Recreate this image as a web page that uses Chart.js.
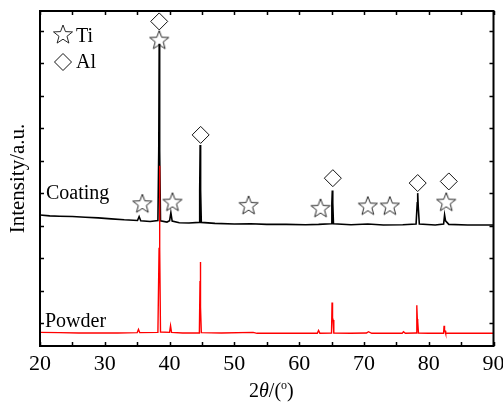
<!DOCTYPE html>
<html lang="en">
<head>
<meta charset="UTF-8">
<title>XRD pattern</title>
<script src="https://cdn.jsdelivr.net/npm/chart.js@4.4.1/dist/chart.umd.min.js"></script>
<style>
  html, body { margin: 0; padding: 0; background: #fff; }
  #wrap { width: 503px; height: 405px; }
</style>
</head>
<body>
<div id="wrap"><canvas id="xrd"></canvas></div>
<script>
  // 2theta (deg) and intensity (a.u.)
  const coatingX = [20.0, 21.5, 23.0, 25.0, 27.0, 29.0, 31.0, 33.0, 35.05, 35.3, 35.55, 37.0,
    38.2, 38.33, 38.4, 38.47, 38.6, 39.6, 40.0, 40.2, 40.4, 41.5, 43.0, 44.55, 44.65, 44.72, 44.79, 44.9,
    47.0, 50.0, 52.5, 55.0, 58.0, 61.0, 63.0, 64.95, 65.05, 65.12, 65.19, 65.3, 68.0, 70.6, 73.0, 76.0,
    78.05, 78.23, 78.3, 78.38, 78.55, 81.0, 82.3, 82.45, 82.6, 83.1, 86.0, 90.0];
  const coatingY = [40.3, 40.0, 39.9, 39.8, 39.6, 39.4, 39.1, 38.8, 38.6, 39.8, 38.5, 38.3,
    38.6, 60.0, 92.9, 60.0, 38.5, 38.1, 38.5, 41.0, 38.4, 37.9, 37.8, 38.0, 48.0, 61.8, 48.0, 38.0,
    37.7, 37.5, 37.6, 37.4, 37.4, 37.3, 37.4, 37.6, 44.0, 47.8, 44.0, 37.6, 37.3, 37.5, 37.2, 37.3,
    37.5, 44.0, 47.0, 43.0, 37.5, 37.2, 37.5, 40.3, 38.5, 37.4, 37.2, 37.2];

  const powderX = [20.0, 23.0, 26.0, 29.0, 32.0, 35.0, 35.2, 35.4, 38.2, 38.38, 38.45, 38.5, 38.6,
    40.0, 40.15, 40.3, 42.0, 44.6, 44.7, 44.75, 44.8, 44.9, 48.0, 52.9, 53.5, 58.0, 62.8, 63.0, 63.2,
    65.0, 65.08, 65.13, 65.18, 65.24, 65.35, 68.0, 70.4, 70.7, 71.2, 74.0, 75.9, 76.1, 76.4,
    78.05, 78.14, 78.19, 78.24, 78.3, 78.42, 80.0, 82.3, 82.37, 82.42, 82.46, 82.52, 82.62, 86.0, 90.0];
  const powderY = [4.2, 4.1, 4.0, 4.0, 4.0, 4.1, 5.1, 4.1, 4.2, 30.0, 55.4, 30.0, 4.3,
    4.2, 6.2, 4.2, 4.0, 4.0, 20.0, 25.8, 12.0, 4.1, 4.0, 4.2, 3.9, 3.9, 3.9, 4.8, 3.9,
    4.0, 13.4, 13.0, 8.6, 8.0, 4.0, 3.9, 4.0, 4.4, 3.9, 3.9, 3.9, 4.4, 3.9,
    4.0, 12.5, 12.0, 8.3, 7.5, 4.0, 3.9, 3.9, 6.2, 6.0, 4.9, 4.7, 3.9, 3.9, 3.9];

  // phase markers
  const tiX = [38.4, 35.8, 40.45, 52.2, 63.3, 70.6, 74.0, 82.7];
  const tiY = [94.2, 43.9, 44.4, 43.4, 42.5, 43.2, 43.2, 44.4];
  const alX = [38.4, 44.8, 65.2, 78.3, 83.1];
  const alY = [99.8, 64.9, 51.6, 50.1, 50.6];

  const xTicks = [20, 30, 40, 50, 60, 70, 80, 90];
  const yTicks = [7, 17, 27, 37, 47, 57, 67, 77, 87, 97];

  const serif = "'Liberation Serif', 'Times New Roman', serif";
  const markColor = '#111';

  function pts(xs, ys) {
    return xs.map((x, i) => ({ x: x, y: ys[i] }));
  }

  function starPath(g, cx, cy, r) {
    g.beginPath();
    for (let i = 0; i < 10; i++) {
      const rr = i % 2 ? r * 0.42 : r;
      const a = -Math.PI / 2 + i * Math.PI / 5;
      const px = cx + rr * Math.cos(a), py = cy + rr * Math.sin(a);
      if (i === 0) g.moveTo(px, py); else g.lineTo(px, py);
    }
    g.closePath();
  }

  const star = document.createElement('canvas');
  star.width = 24; star.height = 24;
  (function () {
    const g = star.getContext('2d');
    starPath(g, 12, 13, 10);
    g.strokeStyle = markColor;
    g.lineWidth = 0.9;
    g.stroke();
  })();

  // frame, inward ticks, legend, labels
  const decor = {
    id: 'decor',
    afterDraw(chart) {
      const { ctx, chartArea: a, scales } = chart;
      ctx.save();
      ctx.strokeStyle = '#000';
      ctx.lineWidth = 1.5;
      ctx.beginPath();
      for (let v = 20; v <= 90; v += 5) {
        const px = Math.round(scales.x.getPixelForValue(v)) + 0.5;
        ctx.moveTo(px, a.bottom); ctx.lineTo(px, a.bottom - 4);
        ctx.moveTo(px, a.top); ctx.lineTo(px, a.top + 4);
      }
      yTicks.forEach(v => {
        const py = Math.round(scales.y.getPixelForValue(v)) + 0.5;
        ctx.moveTo(a.left, py); ctx.lineTo(a.left + 4, py);
        ctx.moveTo(a.right, py); ctx.lineTo(a.right - 4, py);
      });
      ctx.stroke();
      ctx.lineWidth = 2;
      ctx.strokeRect(a.left, a.top, a.right - a.left, a.bottom - a.top);

      // legend
      ctx.drawImage(star, a.left + 23 - 12, a.top + 24 - 13);
      ctx.beginPath();
      const dx = a.left + 23, dy = a.top + 51, dr = 8.5;
      ctx.moveTo(dx, dy - dr); ctx.lineTo(dx + dr, dy); ctx.lineTo(dx, dy + dr); ctx.lineTo(dx - dr, dy);
      ctx.closePath();
      ctx.strokeStyle = markColor;
      ctx.lineWidth = 1;
      ctx.stroke();

      ctx.fillStyle = '#000';
      ctx.textBaseline = 'alphabetic';
      ctx.textAlign = 'left';
      ctx.font = '20px ' + serif;
      ctx.fillText('Ti', a.left + 36, a.top + 31);
      ctx.fillText('Al', a.left + 36, a.top + 57);
      ctx.fillText('Coating', a.left + 6, 199);
      ctx.fillText('Powder', a.left + 5, 327);

      // x title: 2θ/(°)
      let x = 249;
      const by = 397;
      ctx.font = '20px ' + serif;
      ctx.fillText('2', x, by); x += ctx.measureText('2').width;
      ctx.font = 'italic 20px ' + serif;
      ctx.fillText('\u03b8', x, by); x += ctx.measureText('\u03b8').width;
      ctx.font = '20px ' + serif;
      ctx.fillText('/(', x, by); x += ctx.measureText('/(').width;
      ctx.font = '12px ' + serif;
      ctx.fillText('o', x, by - 8); x += ctx.measureText('o').width;
      ctx.font = '20px ' + serif;
      ctx.fillText(')', x, by);
      ctx.restore();
    }
  };

  new Chart(document.getElementById('xrd'), {
    type: 'line',
    data: {
      datasets: [
        {
          label: 'Ti',
          data: pts(tiX, tiY),
          showLine: false,
          pointStyle: star,
          order: 0
        },
        {
          label: 'Al',
          data: pts(alX, alY),
          showLine: false,
          pointStyle: 'rectRot',
          pointRadius: 8.5,
          pointBorderWidth: 1,
          pointBorderColor: markColor,
          pointBackgroundColor: 'rgba(0,0,0,0)',
          order: 0
        },
        {
          label: 'Powder',
          data: pts(powderX, powderY),
          borderColor: '#ff0000',
          borderWidth: 1.4,
          pointRadius: 0,
          tension: 0,
          order: 1
        },
        {
          label: 'Coating',
          data: pts(coatingX, coatingY),
          borderColor: '#000',
          borderWidth: 1.6,
          pointRadius: 0,
          tension: 0,
          order: 2
        }
      ]
    },
    options: {
      responsive: true,
      maintainAspectRatio: false,
      animation: false,
      events: [],
      layout: { padding: { top: 11, right: 9, left: 0, bottom: 0 } },
      plugins: {
        legend: { display: false },
        tooltip: { enabled: false }
      },
      scales: {
        x: {
          type: 'linear',
          min: 20,
          max: 90,
          afterBuildTicks: s => { s.ticks = xTicks.map(v => ({ value: v })); },
          afterFit: s => { s.height = 59; s.paddingLeft = 0; s.paddingRight = 0; },
          grid: { display: false, drawTicks: false },
          border: { display: false },
          ticks: {
            color: '#000',
            padding: 5,
            font: { family: serif, size: 22 }
          }
        },
        y: {
          type: 'linear',
          min: 0,
          max: 103,
          afterBuildTicks: s => { s.ticks = yTicks.map(v => ({ value: v })); },
          afterFit: s => { s.width = 40; s.paddingTop = 0; s.paddingBottom = 0; },
          grid: { display: false, drawTicks: false },
          border: { display: false },
          ticks: { display: false },
          title: {
            display: true,
            text: 'Intensity/a.u.',
            color: '#000',
            padding: { top: 6, bottom: 0 },
            font: { family: serif, size: 21 }
          }
        }
      }
    },
    plugins: [decor]
  });
</script>
</body>
</html>
